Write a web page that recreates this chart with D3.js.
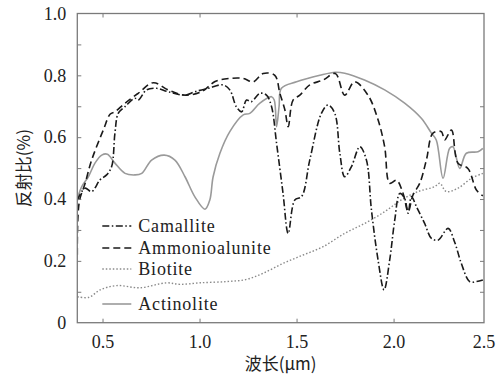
<!DOCTYPE html>
<html>
<head>
<meta charset="utf-8">
<script src="https://cdn.jsdelivr.net/npm/d3@7"></script>
<style>
  body { margin: 0; background: #fff; overflow: hidden; }
  svg { display: block; }
</style>
</head>
<body>
<div id="chart"></div>
<script>
// wavelength (um) / reflectance
var camalliteWl = [0.37,0.41,0.444,0.487,0.521,0.547,0.564,0.581,0.616,0.667,0.684,0.727,0.779,0.839,0.925,0.976,1.045,1.121,1.156,1.19,1.217,1.242,1.268,1.311,1.345,1.371,1.397,1.43,1.457,1.491,1.526,1.568,1.628,1.662,1.697,1.723,1.748,1.783,1.826,1.86,1.886,1.92,1.951,1.98,2.006,2.032,2.057,2.075,2.092,2.118,2.16,2.195,2.229,2.281,2.315,2.349,2.392,2.427,2.46];
var camalliteR  = [0.396,0.435,0.424,0.462,0.478,0.505,0.613,0.677,0.699,0.726,0.72,0.753,0.758,0.747,0.736,0.747,0.758,0.769,0.753,0.698,0.682,0.72,0.715,0.742,0.736,0.699,0.58,0.42,0.289,0.397,0.408,0.526,0.677,0.704,0.677,0.548,0.472,0.505,0.569,0.526,0.364,0.203,0.106,0.203,0.332,0.418,0.402,0.354,0.408,0.375,0.321,0.273,0.267,0.305,0.26,0.192,0.133,0.133,0.138];

var ammonioWl = [0.37,0.38,0.41,0.444,0.504,0.54,0.564,0.616,0.684,0.761,0.839,0.925,1.01,1.08,1.156,1.225,1.276,1.328,1.388,1.414,1.44,1.457,1.482,1.517,1.568,1.637,1.70,1.748,1.799,1.868,1.92,1.954,1.98,2.015,2.049,2.075,2.1,2.135,2.169,2.203,2.246,2.263,2.298,2.332,2.383,2.427,2.46];
var ammonioR  = [0.22,0.39,0.45,0.526,0.623,0.675,0.682,0.71,0.742,0.776,0.753,0.736,0.747,0.78,0.79,0.79,0.779,0.806,0.80,0.742,0.688,0.634,0.72,0.736,0.769,0.785,0.806,0.736,0.779,0.736,0.656,0.569,0.451,0.461,0.418,0.359,0.413,0.451,0.526,0.613,0.618,0.591,0.623,0.516,0.499,0.429,0.41];

var biotiteWl = [0.37,0.43,0.487,0.573,0.693,0.83,0.899,1.002,1.139,1.242,1.328,1.431,1.534,1.637,1.748,1.851,1.954,2.04,2.126,2.212,2.238,2.272,2.332,2.401,2.46];
var biotiteR  = [0.084,0.082,0.106,0.12,0.113,0.129,0.124,0.129,0.133,0.14,0.16,0.192,0.219,0.246,0.289,0.321,0.359,0.397,0.424,0.44,0.451,0.424,0.435,0.467,0.483];

var actinoliteWl = [0.37,0.393,0.427,0.461,0.496,0.525,0.564,0.616,0.667,0.702,0.753,0.818,0.873,0.925,0.976,1.028,1.053,1.07,1.105,1.156,1.225,1.259,1.311,1.371,1.385,1.397,1.41,1.422,1.50,1.62,1.70,1.748,1.85,1.954,2.057,2.143,2.195,2.22,2.255,2.289,2.306,2.341,2.375,2.435,2.46];
var actinoliteR  = [0.40,0.44,0.472,0.516,0.542,0.545,0.516,0.483,0.478,0.483,0.526,0.542,0.526,0.472,0.407,0.367,0.397,0.472,0.548,0.618,0.672,0.677,0.71,0.731,0.72,0.634,0.70,0.758,0.779,0.80,0.81,0.807,0.785,0.753,0.71,0.661,0.613,0.591,0.467,0.564,0.569,0.499,0.548,0.553,0.564];

var names = ["Camallite", "Ammonioalunite", "Biotite", "Actinolite"];
var xTicks = [0.5, 1.0, 1.5, 2.0, 2.5];
var yTicks = [0, 0.2, 0.4, 0.6, 0.8, 1.0];

var series = [
  {name: names[0], wl: camalliteWl, r: camalliteR, color: "#1a1a1a", dash: "7,2.5,1.5,2.5", width: 1.6},
  {name: names[1], wl: ammonioWl, r: ammonioR, color: "#1a1a1a", dash: "7,4", width: 1.6},
  {name: names[2], wl: biotiteWl, r: biotiteR, color: "#8a8a8a", dash: "1.5,2", width: 1.4},
  {name: names[3], wl: actinoliteWl, r: actinoliteR, color: "#9a9a9a", dash: null, width: 1.6}
];

var serif = "'Liberation Serif', 'Times New Roman', serif";
var cjk = "'Noto Sans CJK SC', sans-serif";
var textColor = "#222";

var width = 501, height = 380;
var margin = {top: 13.5, right: 17, bottom: 57.3, left: 77.3};
var innerWidth = width - margin.left - margin.right;
var innerHeight = height - margin.top - margin.bottom;
var xMax = 2.466;

var xScale = d3.scaleLinear().domain([0.37, xMax]).range([0, innerWidth]);
var yScale = d3.scaleLinear().domain([0, 1]).range([innerHeight, 0]);

var svg = d3.select("#chart").append("svg")
  .attr("width", width)
  .attr("height", height);

svg.append("defs").append("clipPath").attr("id", "clip")
  .append("rect").attr("width", innerWidth).attr("height", innerHeight);

var g = svg.append("g")
  .attr("transform", "translate(" + margin.left + "," + margin.top + ")");

// curves
var line = d3.line()
  .x(function (d) { return xScale(d[0]); })
  .y(function (d) { return yScale(d[1]); })
  .curve(d3.curveCatmullRom.alpha(0.5));

g.append("g").attr("clip-path", "url(#clip)")
  .selectAll("path")
  .data(series.slice().reverse())
  .enter().append("path")
  .attr("fill", "none")
  .attr("stroke", function (d) { return d.color; })
  .attr("stroke-width", function (d) { return d.width; })
  .attr("stroke-dasharray", function (d) { return d.dash; })
  .attr("d", function (d) { return line(d.wl.map(function (w, i) { return [w, d.r[i]]; })); });

// axes, ticks pointing inward
var frameColor = "#7a7a7a";
var fmt = function (d) { return d === 0 ? "0" : d3.format(".1f")(d); };

var xAxis = g.append("g")
  .attr("transform", "translate(0," + innerHeight + ")")
  .call(d3.axisBottom(xScale).tickValues(xTicks.slice(0, 4)).tickSize(-4).tickPadding(13).tickFormat(fmt));
// last label sits at the right edge of the frame in the figure
xAxis.append("g").attr("class", "tick")
  .attr("transform", "translate(" + xScale(xMax) + ",0)")
  .append("text").attr("y", 13).attr("dy", "0.71em")
  .text(fmt(xTicks[4]));

var yAxis = g.append("g")
  .call(d3.axisLeft(yScale).tickValues(yTicks).tickSize(0).tickPadding(11).tickFormat(fmt));

[xAxis, yAxis].forEach(function (a) {
  a.attr("font-family", serif).attr("font-size", 18);
  a.selectAll("text").attr("fill", textColor);
});

// minor tick marks
var topAxis = g.append("g")
  .call(d3.axisTop(xScale).tickValues(xTicks.slice(0, 3)).tickSize(-4));
var leftTicks = g.append("g")
  .call(d3.axisLeft(yScale).tickValues(d3.range(1, 10).map(function (i) { return i / 10; })).tickSize(-4));
var rightTicks = g.append("g")
  .attr("transform", "translate(" + innerWidth + ",0)")
  .call(d3.axisRight(yScale).tickValues(d3.range(1, 8).map(function (i) { return i / 10; })).tickSize(-4));
[topAxis, leftTicks, rightTicks].forEach(function (a) { a.selectAll("text").remove(); });

g.selectAll(".domain").remove();
g.selectAll(".tick line").attr("stroke", frameColor).attr("stroke-width", 1);

g.append("rect")
  .attr("width", innerWidth)
  .attr("height", innerHeight)
  .attr("fill", "none")
  .attr("stroke", frameColor)
  .attr("stroke-width", 1.3);

// axis titles
svg.append("text")
  .attr("x", margin.left + innerWidth / 2)
  .attr("y", 370)
  .attr("text-anchor", "middle")
  .attr("font-family", cjk)
  .attr("font-size", 17)
  .attr("fill", textColor)
  .text("波长(μm)");

svg.append("text")
  .attr("transform", "translate(24," + (margin.top + innerHeight / 2) + ") rotate(-90)")
  .attr("text-anchor", "middle")
  .attr("dy", "0.35em")
  .attr("font-family", cjk)
  .attr("font-size", 17)
  .attr("fill", textColor)
  .text("反射比(%)");

// legend
var legendY = [226, 248, 269, 304];
var legend = g.append("g")
  .selectAll("g")
  .data(series)
  .enter().append("g")
  .attr("transform", function (d, i) { return "translate(25," + (legendY[i] - margin.top) + ")"; });

legend.append("line")
  .attr("x1", 0).attr("x2", 29)
  .attr("stroke", function (d) { return d.color; })
  .attr("stroke-width", function (d) { return d.width; })
  .attr("stroke-dasharray", function (d) { return d.dash; });

legend.append("text")
  .attr("x", 36)
  .attr("dy", "0.35em")
  .attr("font-family", serif)
  .attr("font-size", 18)
  .attr("letter-spacing", 0.8)
  .attr("fill", textColor)
  .text(function (d) { return d.name; });
</script>
</body>
</html>
